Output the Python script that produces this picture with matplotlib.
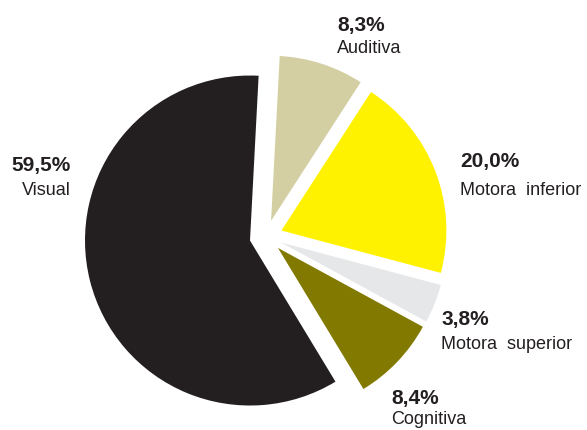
import matplotlib.pyplot as plt

plt.rcParams['font.family'] = ['Liberation Sans', 'DejaVu Sans']

# Datos
categorias = ['Auditiva', 'Motora  inferior', 'Motora  superior', 'Cognitiva', 'Visual']
porcentajes = [8.3, 20.0, 3.8, 8.4, 59.5]
etiquetas_pct = ['8,3%', '20,0%', '3,8%', '8,4%', '59,5%']
colores = ['#d3cfa2', '#fff200', '#e6e7e8', '#827a00', '#231f20']

# posicion de las etiquetas (pixeles: x, linea base, alineacion)
pos_etiquetas = [(337, 31, 53, 'left'),
                 (460, 167, 195, 'left'),
                 (441, 325, 349, 'left'),
                 (391, 404, 424, 'left'),
                 (71, 171, 195, 'right')]

W, H = 587, 430
cx, cy, R = 266, 236.5, 165   # centro y radio del pastel en pixeles
color_texto = '#231f20'

fig = plt.figure(figsize=(W / 100, H / 100), dpi=100)
ax = fig.add_axes([0, 0, 1, 1])

ax.pie(porcentajes, colors=colores, startangle=87, counterclock=False,
       explode=[0.1] * len(porcentajes), radius=1,
       wedgeprops={'linewidth': 0})

ax.set_xlim(-cx / R, (W - cx) / R)
ax.set_ylim(-(H - cy) / R, cy / R)
ax.axis('off')

for cat, pct, (x, y1, y2, al) in zip(categorias, etiquetas_pct, pos_etiquetas):
    fig.text(x / W, 1 - y1 / H, pct, ha=al, va='baseline', fontsize=15,
             fontweight='bold', color=color_texto)
    fig.text(x / W, 1 - y2 / H, cat, ha=al, va='baseline', fontsize=13,
             color=color_texto)

fig.savefig('out.png', dpi=100)
